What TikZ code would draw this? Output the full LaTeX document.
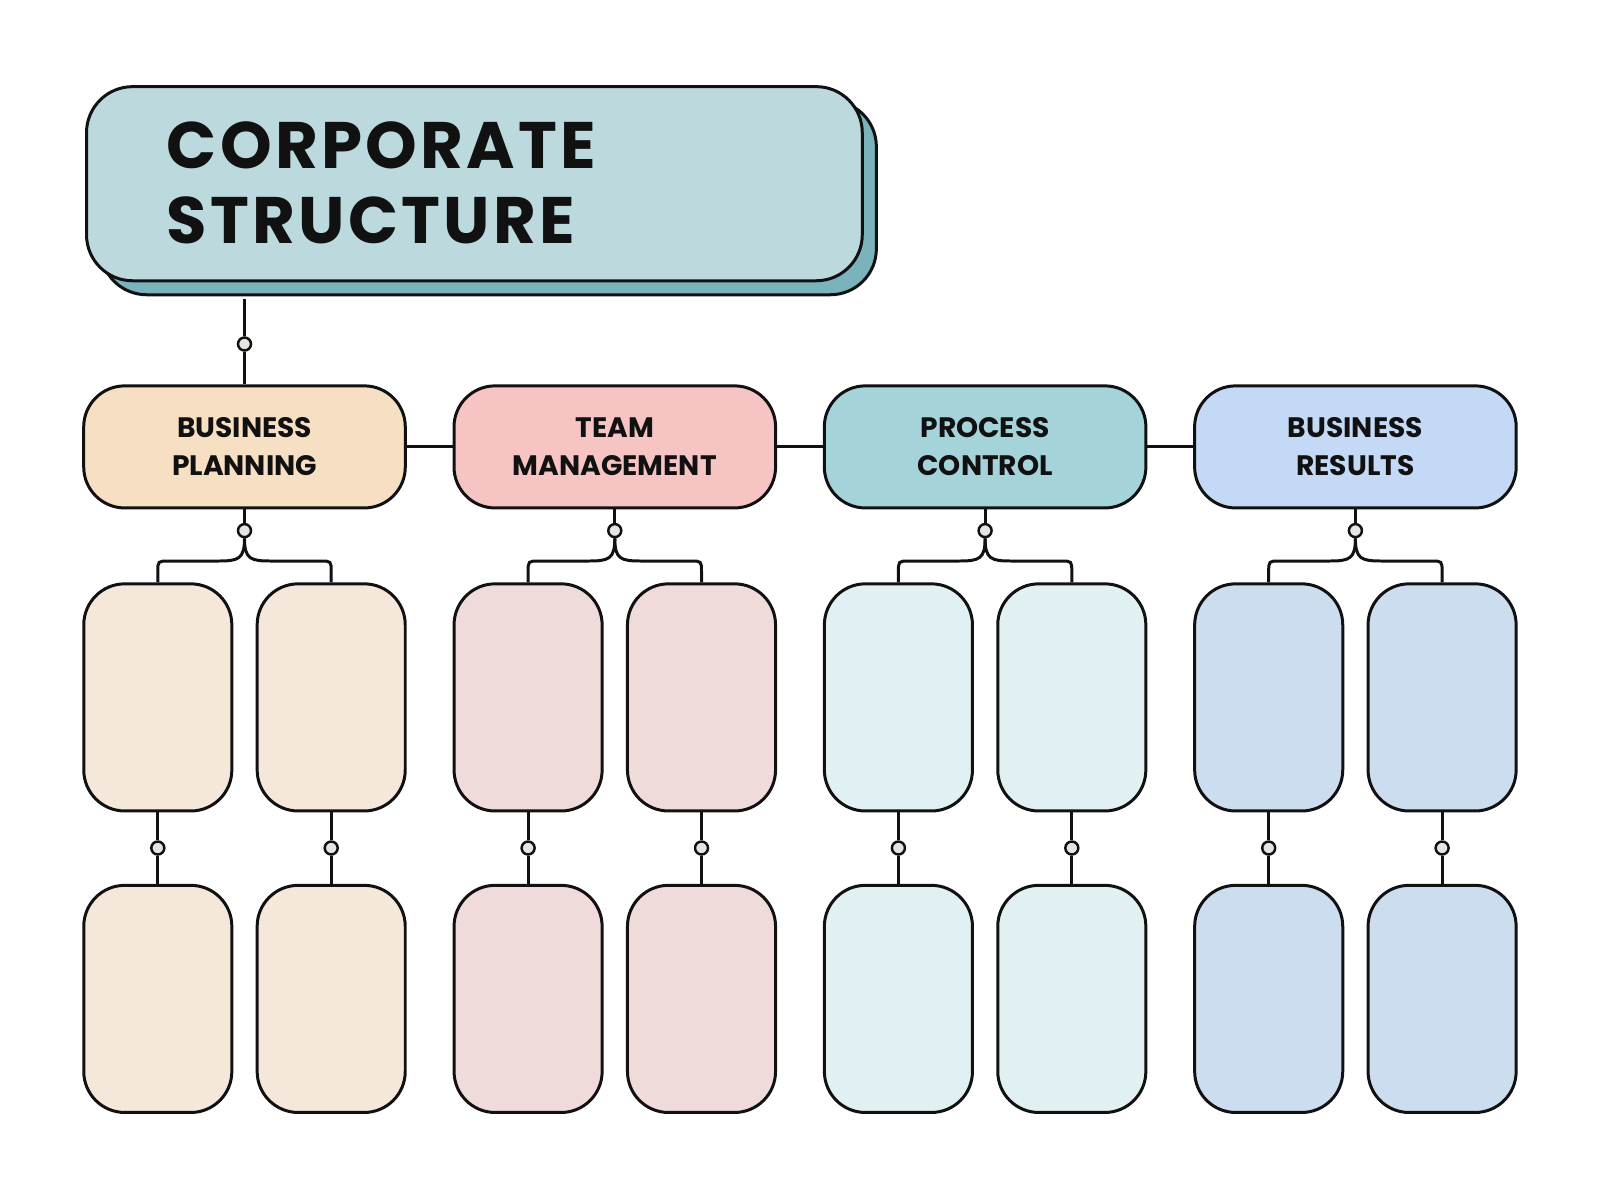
\documentclass[tikz,border=0pt]{standalone}
\usepackage{fontspec}
\setmainfont{Poppins}
\definecolor{titlefill}{HTML}{BCDADE}
\definecolor{titleshadow}{HTML}{7AB3BB}
\definecolor{bph}{HTML}{F7DFC4}
\definecolor{bpk}{HTML}{F5E7DA}
\definecolor{tmh}{HTML}{F6C4C3}
\definecolor{tmk}{HTML}{F0DBDB}
\definecolor{pch}{HTML}{A4D4DA}
\definecolor{pck}{HTML}{E0F0F3}
\definecolor{brh}{HTML}{C3D9F5}
\definecolor{brk}{HTML}{CCDDEF}
\definecolor{dotc}{HTML}{E4E6E1}
\definecolor{ink}{HTML}{111111}
\begin{document}
\begin{tikzpicture}[x=0.01cm,y=-0.01cm,
  box/.style={draw=ink, line width=0.85pt, rounded corners=0.41cm, inner sep=0pt},
  titlebox/.style={box, rounded corners=0.46cm, minimum width=7.753cm, minimum height=1.94cm},
  titletext/.style={anchor=base west, inner sep=0pt, text=ink, font=\fontsize{18.7}{21}\selectfont\bfseries\addfontfeatures{LetterSpace=5}},
  hdr/.style={box, minimum width=3.214cm, minimum height=1.22cm, align=center, text=ink, font=\fontsize{8}{10.75}\selectfont\bfseries},
  kid/.style={box, minimum width=1.48cm, minimum height=2.27cm},
  dot/.style={circle, draw=ink, fill=dotc, line width=0.7pt, minimum size=0.13cm, inner sep=0pt},
  wire/.style={draw=ink, line width=0.85pt}]
\useasboundingbox[fill=white] (0,0) rectangle (1600,1200);
% title
\node[titlebox, fill=titleshadow] (tshadow) at (488.5,197.7) {};
\node[titlebox, fill=titlefill] (title) at (474.4,183.7) {};
\node[titletext] (t1) at (166,168.4) {CORPORATE};
\node[titletext] (t2) at (166,243) {STRUCTURE};
\coordinate (tstart) at (244.5,299);
\node[dot] (d0) at (244.5,344) {};
% columns
\foreach \i/\txt/\hc/\kc in {0/{BUSINESS\\PLANNING}/bph/bpk, 1/{TEAM\\MANAGEMENT}/tmh/tmk, 2/{PROCESS\\CONTROL}/pch/pck, 3/{BUSINESS\\RESULTS}/brh/brk}{
  \pgfmathsetmacro\cx{244.5+370.3*\i}
  \pgfmathsetmacro\lx{\cx-86.7}
  \pgfmathsetmacro\rx{\cx+86.7}
  \node[hdr, fill=\hc] (h\i) at (\cx,446.9) {\txt};
  \node[dot] (hd\i) at (\cx,530.6) {};
  \node[kid, fill=\kc] (a\i) at (\lx,697.4) {};
  \node[kid, fill=\kc] (b\i) at (\rx,697.4) {};
  \node[kid, fill=\kc] (c\i) at (\lx,998.9) {};
  \node[kid, fill=\kc] (e\i) at (\rx,998.9) {};
  \node[dot] (ad\i) at (\lx,848) {};
  \node[dot] (bd\i) at (\rx,848) {};
  \draw[wire] (h\i) -- (hd\i);
  \draw[wire] (hd\i.south) .. controls (\cx,559) and (\cx-6,561) .. (\cx-26,561) -- (\lx+11,561) .. controls (\lx,561) .. (\lx,572) -- (a\i.north);
  \draw[wire] (hd\i.south) .. controls (\cx,559) and (\cx+6,561) .. (\cx+26,561) -- (\rx-11,561) .. controls (\rx,561) .. (\rx,572) -- (b\i.north);
  \draw[wire] (a\i) -- (ad\i) -- (c\i);
  \draw[wire] (b\i) -- (bd\i) -- (e\i);
}
\foreach \i/\j in {0/1,1/2,2/3} \draw[wire] (h\i) -- (h\j);
\draw[wire] (tstart) -- (d0) -- (h0);
\end{tikzpicture}
\end{document}
